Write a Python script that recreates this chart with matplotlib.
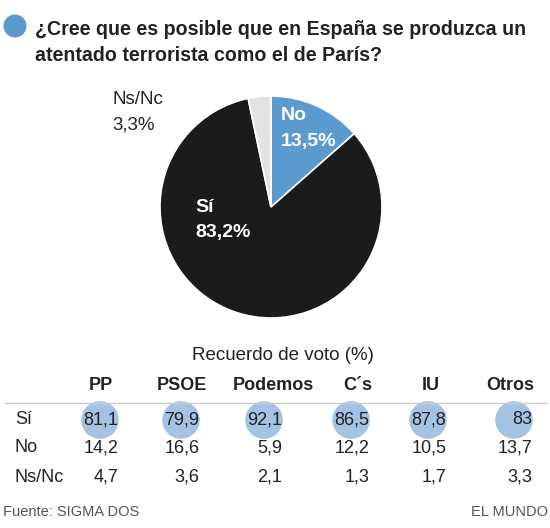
import matplotlib
matplotlib.use("Agg")
import matplotlib.pyplot as plt
from matplotlib.patches import Circle

plt.rcParams['font.family'] = ['Liberation Sans', 'DejaVu Sans']

# Data
title_lines = ["¿Cree que es posible que en España se produzca un",
               "atentado terrorista como el de París?"]
pie_labels = ["No", "Sí", "Ns/Nc"]
pie_values = [13.5, 83.2, 3.3]
pie_colors = ["#5b9bcf", "#1b1b1b", "#e3e3e3"]

parties = ["PP", "PSOE", "Podemos", "C´s", "IU", "Otros"]
row_labels = ["Sí", "No", "Ns/Nc"]
si_vals = ["81,1", "79,9", "92,1", "86,5", "87,8", "83"]
no_vals = ["14,2", "16,6", "5,9", "12,2", "10,5", "13,7"]
nsnc_vals = ["4,7", "3,6", "2,1", "1,3", "1,7", "3,3"]
table_rows = [si_vals, no_vals, nsnc_vals]

W, H = 550, 528
fig = plt.figure(figsize=(W / 100, H / 100), dpi=100)
fig.patch.set_facecolor("white")

# pie
cx, cy, r = 271, 207, 111
pax = fig.add_axes([(cx - r) / W, (H - cy - r) / H, 2 * r / W, 2 * r / H])
pax.pie(pie_values, colors=pie_colors, startangle=90, counterclock=False,
        radius=1, wedgeprops=dict(edgecolor="white", linewidth=1.2))
pax.set_xlim(-1, 1)
pax.set_ylim(-1, 1)
pax.set_aspect("equal")
pax.axis("off")

# overlay axes in pixel coordinates (drawn above the pie)
ov = fig.add_axes([0, 0, 1, 1])
ov.patch.set_alpha(0)
ov.set_xlim(0, W)
ov.set_ylim(H, 0)
ov.axis("off")

# title
ov.add_patch(Circle((15, 26), 11.5, color="#5b9bd0", lw=0))
for yb, line in zip([35, 61], title_lines):
    ov.text(35, yb, line, fontsize=14.1, fontweight="bold", color="#222222",
            ha="left", va="baseline")

def pct(v):
    return f"{v:.1f}%".replace(".", ",")

# pie labels (two lines each: name, percentage)
ov.text(281, 120, pie_labels[0], fontsize=14, fontweight="bold", color="white",
        ha="left", va="baseline")
ov.text(281, 146, pct(pie_values[0]), fontsize=14, fontweight="bold",
        color="white", ha="left", va="baseline")
ov.text(195, 211.5, pie_labels[1], fontsize=14, fontweight="bold", color="white",
        ha="left", va="baseline")
ov.text(195, 236.5, pct(pie_values[1]), fontsize=14, fontweight="bold",
        color="white", ha="left", va="baseline")
ov.text(112, 104, pie_labels[2], fontsize=13.5, color="#222222",
        ha="left", va="baseline")
ov.text(112, 129, pct(pie_values[2]), fontsize=13.5, color="#222222",
        ha="left", va="baseline")

# table
ov.text(283, 355, "Recuerdo de voto (%)", fontsize=13.5, color="#222222",
        ha="center", va="center")
header_x = [101, 182, 273, 358, 431, 510]
right_x = [118.5, 199.5, 282.5, 369.5, 446.5, 532.5]
row_y = [420, 448, 477]
for hx, p in zip(header_x, parties):
    ov.text(hx, 386, p, fontsize=13, fontweight="bold", color="#222222",
            ha="center", va="center")
ov.plot([5, 547], [402.5, 402.5], color="#cccccc", lw=1)

for rx in right_x:
    ov.add_patch(Circle((rx - 18.5, row_y[0]), 18.8, color="#a4c2e2", lw=0))

for ry, lab, vals in zip(row_y, row_labels, table_rows):
    ov.text(15, ry, lab, fontsize=13, color="#222222", ha="left", va="center")
    for rx, v in zip(right_x, vals):
        ov.text(rx, ry, v, fontsize=13, color="#222222", ha="right", va="center")

# footer
ov.text(3, 512, "Fuente: SIGMA DOS", fontsize=10.5, color="#555555",
        ha="left", va="center")
ov.text(548, 512, "EL MUNDO", fontsize=10.5, color="#555555",
        ha="right", va="center")

fig.savefig("out.png", dpi=100, facecolor="white")
